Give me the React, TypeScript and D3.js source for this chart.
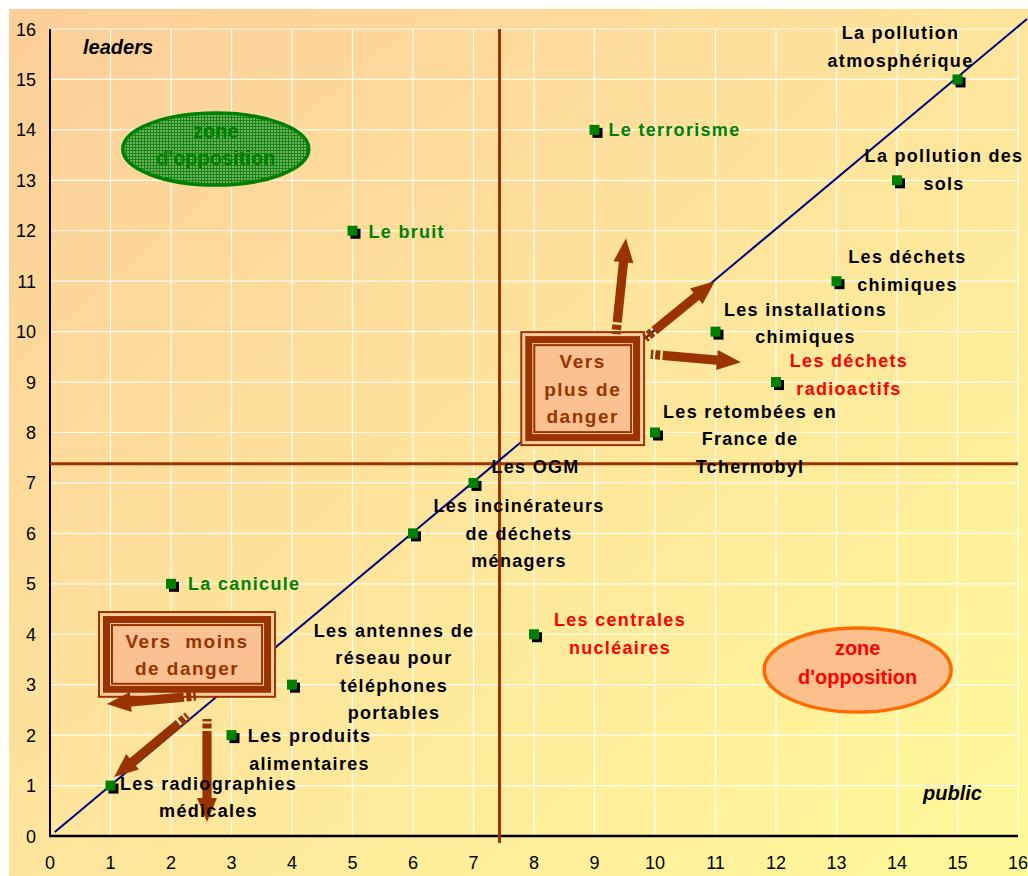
import * as d3 from "d3";

// risk perception: leaders (y) vs public (x)
const risks = [
  "La pollution atmosphérique",
  "La pollution des sols",
  "Le terrorisme",
  "Le bruit",
  "Les déchets chimiques",
  "Les installations chimiques",
  "Les déchets radioactifs",
  "Les retombées en France de Tchernobyl",
  "Les OGM",
  "Les incinérateurs de déchets ménagers",
  "La canicule",
  "Les centrales nucléaires",
  "Les antennes de réseau pour téléphones portables",
  "Les produits alimentaires",
  "Les radiographies médicales",
];
const publicScore = [15, 14, 9, 5, 13, 11, 12, 10, 7, 6, 2, 8, 4, 3, 1];
const leadersScore = [15, 13, 14, 12, 11, 10, 9, 8, 7, 6, 5, 4, 3, 2, 1];
const labelLines = [
  ["La pollution", "atmosphérique"],
  ["La pollution des", "sols"],
  ["Le terrorisme"],
  ["Le bruit"],
  ["Les déchets", "chimiques"],
  ["Les installations", "chimiques"],
  ["Les déchets", "radioactifs"],
  ["Les retombées en", "France de", "Tchernobyl"],
  ["Les OGM"],
  ["Les incinérateurs", "de déchets", "ménagers"],
  ["La canicule"],
  ["Les centrales", "nucléaires"],
  ["Les antennes de", "réseau pour", "téléphones", "portables"],
  ["Les produits", "alimentaires"],
  ["Les radiographies", "médicales"],
];
const ticks = d3.range(0, 17);
const crossX = 7.43;
const crossY = 7.38;

// label placement (px offsets from the point), kept apart from data
const labelPlace: [number, number, string, string][] = [
  [-57, -40, "middle", "#000"],
  [47, -18, "middle", "#000"],
  [14, 6, "start", "#008000"],
  [16, 7, "start", "#008000"],
  [71, -18, "middle", "#000"],
  [90, -16, "middle", "#000"],
  [73, -15, "middle", "#ff0000"],
  [95, -15, "middle", "#000"],
  [62, -10, "middle", "#000"],
  [106, -21, "middle", "#000"],
  [17, 6, "start", "#008000"],
  [86, -8, "middle", "#ff0000"],
  [102, -48, "middle", "#000"],
  [78, 7, "middle", "#000"],
  [98, 4, "middle", "#000"],
];

// striped arrows: [tailX, tailY, tipX, tipY] in data units
const arrows = [
  [9.355, 9.95, 9.52, 11.85],
  [9.835, 9.87, 10.99, 11.0],
  [9.93, 9.55, 11.42, 9.395],
  [2.41, 2.775, 0.94, 2.615],
  [2.28, 2.38, 1.06, 1.17],
  [2.595, 2.32, 2.595, 0.28],
];

const W = 1028;
const H = 876;
const BROWN = "#993300";
const FONT = "'Liberation Sans', Arial, sans-serif";

function StripedArrow({ x1, y1, x2, y2 }: { x1: number; y1: number; x2: number; y2: number }) {
  const L = Math.hypot(x2 - x1, y2 - y1);
  const ang = (Math.atan2(y2 - y1, x2 - x1) * 180) / Math.PI;
  const bh = 4.6, hh = 10, hl = 24, start = 12;
  const pts = [
    [start, -bh], [L - hl, -bh], [L - hl, -hh], [L, 0],
    [L - hl, hh], [L - hl, bh], [start, bh],
  ].map((p) => p.join(",")).join(" ");
  return (
    <g transform={`translate(${x1},${y1}) rotate(${ang})`} fill={BROWN}>
      <rect x={0} y={-bh} width={2.5} height={bh * 2} />
      <rect x={4.5} y={-bh} width={5} height={bh * 2} />
      <polygon points={pts} />
    </g>
  );
}

function FrameBox({ x0, y0, x1, y1, lines }: { x0: number; y0: number; x1: number; y1: number; lines: string[] }) {
  const w = x1 - x0, h = y1 - y0;
  const cx = (x0 + x1) / 2, cy = (y0 + y1) / 2;
  const lh = 27.5;
  return (
    <g>
      <rect x={x0} y={y0} width={w} height={h} fill="#fdcf9f" stroke={BROWN} strokeWidth={2} />
      <rect x={x0 + 7.5} y={y0 + 7.5} width={w - 15} height={h - 15} fill="none" stroke={BROWN} strokeWidth={7} />
      <rect x={x0 + 13} y={y0 + 13} width={w - 26} height={h - 26} fill="#fbc191" stroke={BROWN} strokeWidth={2} />
      {lines.map((t, i) => (
        <text key={i} x={cx} y={cy + (i - (lines.length - 1) / 2) * lh + 7} textAnchor="middle"
          fontFamily={FONT} fontWeight="bold" fontSize={19} letterSpacing={1.5} fill={BROWN}
          style={{ whiteSpace: "pre" }}>
          {t}
        </text>
      ))}
    </g>
  );
}

export default function App() {
  const x = d3.scaleLinear().domain([0, 16]).range([50, 1018]);
  const y = d3.scaleLinear().domain([0, 16]).range([836, 29]);

  return (
    <svg width={W} height={H} style={{ position: "absolute", left: 0, top: 0, display: "block" }}>
      <defs>
        <linearGradient id="bg" x1="0" y1="0" x2="1" y2="1">
          <stop offset="0" stopColor="#fcce99" />
          <stop offset="0.5" stopColor="#fee59c" />
          <stop offset="1" stopColor="#fffa9a" />
        </linearGradient>
        <pattern id="hatch" width={3} height={3} patternUnits="userSpaceOnUse">
          <rect width={3} height={3} fill="#6cb658" />
          <path d="M0,0.5H3M0.5,0V3" stroke="#1a841a" strokeWidth={1} />
        </pattern>
      </defs>
      <rect x={0} y={0} width={W} height={H} fill="#fff" />
      <rect x={9} y={9} width={W - 9} height={H - 9} fill="url(#bg)" />

      {/* grid */}
      <g stroke="#fff" strokeWidth={1.2} strokeOpacity={0.9}>
        {ticks.slice(1).map((t) => (
          <line key={"gx" + t} x1={x(t)} x2={x(t)} y1={y(16)} y2={y(0)} />
        ))}
        {ticks.slice(1).map((t) => (
          <line key={"gy" + t} x1={x(0)} x2={x(16)} y1={y(t)} y2={y(t)} />
        ))}
      </g>

      {/* axes */}
      <line x1={x(0)} x2={x(0)} y1={y(16)} y2={y(0) + 1} stroke="#000" strokeWidth={2} />
      <line x1={x(0) - 1} x2={x(16)} y1={y(0)} y2={y(0)} stroke="#000" strokeWidth={2.5} />

      {/* tick labels */}
      <g fontFamily={FONT} fontSize={18} fill="#000">
        {ticks.map((t) => (
          <text key={"ty" + t} x={36} y={y(t) + 6.5} textAnchor="end">{t}</text>
        ))}
        {ticks.map((t) => (
          <text key={"tx" + t} x={x(t)} y={869} textAnchor="middle">{t}</text>
        ))}
      </g>

      {/* crosshair */}
      <line x1={x(crossX)} x2={x(crossX)} y1={y(16)} y2={y(0) + 7} stroke={BROWN} strokeWidth={3} />
      <line x1={x(0)} x2={x(16)} y1={y(crossY)} y2={y(crossY)} stroke={BROWN} strokeWidth={3} />

      {/* diagonal */}
      <line x1={x(0.08)} y1={y(0.08)} x2={x(16.15)} y2={y(16.2)} stroke="#000080" strokeWidth={2} />

      {/* corner captions */}
      <g fontFamily={FONT} fontWeight="bold" fontStyle="italic" fontSize={20} fill="#000">
        <text x={83} y={54}>leaders</text>
        <text x={923} y={800}>public</text>
      </g>

      {/* opposition zones */}
      <ellipse cx={x(2.74)} cy={y(13.62)} rx={93} ry={36} fill="url(#hatch)" stroke="#008000" strokeWidth={3.5} />
      <g fontFamily={FONT} fontWeight="bold" fontSize={20} fill="#008000" textAnchor="middle">
        <text x={x(2.74)} y={y(13.62) - 11}>zone</text>
        <text x={x(2.74)} y={y(13.62) + 16}>d'opposition</text>
      </g>
      <ellipse cx={x(13.35)} cy={y(3.29)} rx={93.5} ry={42} fill="#fdc08c" stroke="#ff6a00" strokeWidth={3.5} />
      <g fontFamily={FONT} fontWeight="bold" fontSize={20} fill="#ff0000" textAnchor="middle">
        <text x={x(13.35)} y={y(3.29) - 15}>zone</text>
        <text x={x(13.35)} y={y(3.29) + 14}>d'opposition</text>
      </g>

      {/* direction boxes + arrows */}
      <FrameBox x0={x(7.79)} y0={y(9.99)} x1={x(9.82)} y1={y(7.75)} lines={["Vers", "plus de", "danger"]} />
      <FrameBox x0={x(0.81)} y0={y(4.44)} x1={x(3.72)} y1={y(2.76)} lines={["Vers  moins", "de danger"]} />
      {arrows.map((a, i) => (
        <StripedArrow key={i} x1={x(a[0])} y1={y(a[1])} x2={x(a[2])} y2={y(a[3])} />
      ))}

      {/* points */}
      {risks.map((r, i) => (
        <g key={r}>
          <rect x={x(publicScore[i]) - 2} y={y(leadersScore[i]) - 2} width={10} height={10} fill="#000" />
          <rect x={x(publicScore[i]) - 5} y={y(leadersScore[i]) - 5} width={10} height={10} fill="#008000" />
        </g>
      ))}

      {/* labels */}
      <g fontFamily={FONT} fontWeight="bold" fontSize={18} letterSpacing={1.3}>
        {risks.map((r, i) => {
          const [dx, dy, anchor, col] = labelPlace[i];
          return labelLines[i].map((ln, j) => (
            <text key={r + j} x={x(publicScore[i]) + dx} y={y(leadersScore[i]) + dy + j * 27.5}
              textAnchor={anchor} fill={col}>
              {ln}
            </text>
          ));
        })}
      </g>
    </svg>
  );
}
